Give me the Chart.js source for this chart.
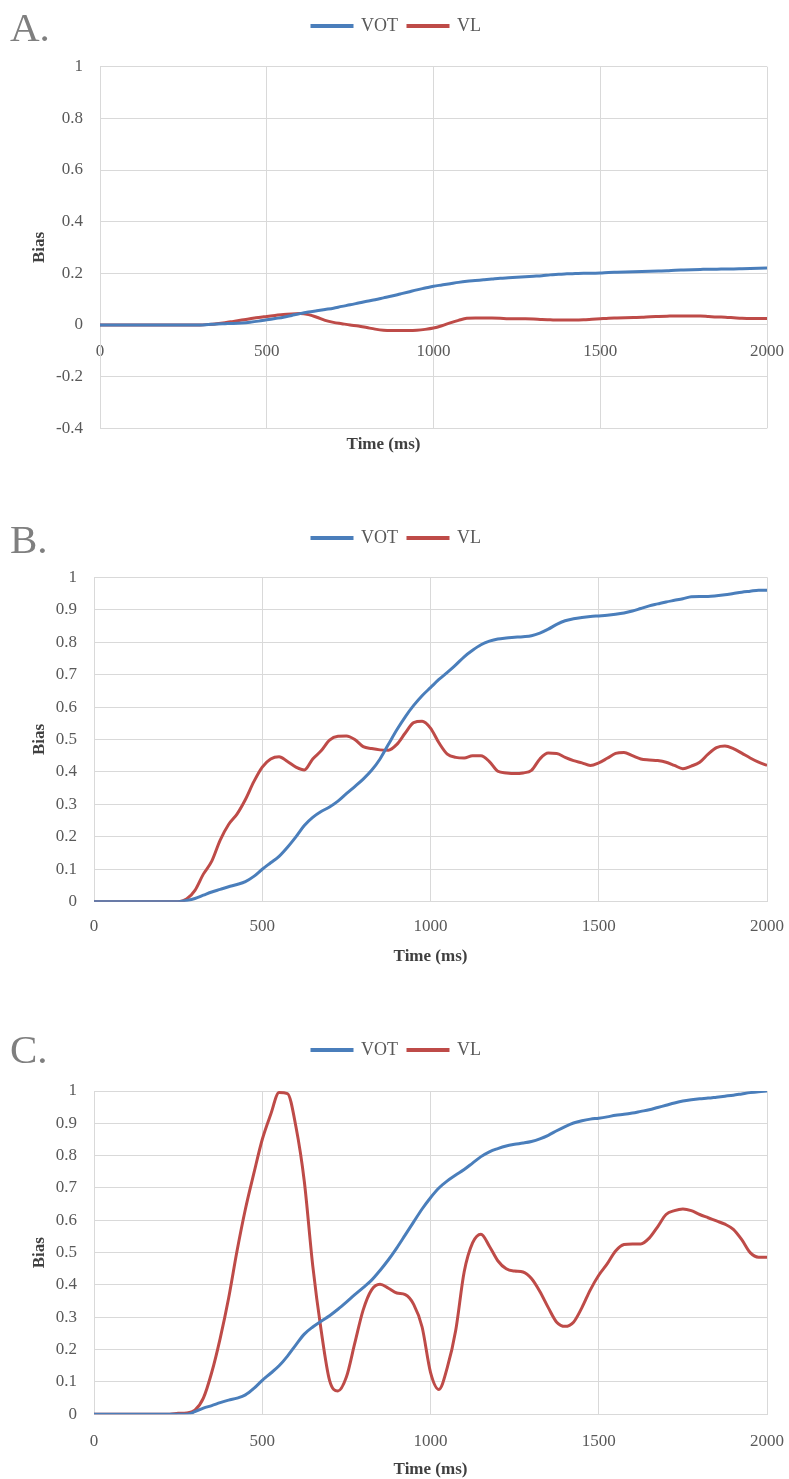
<!DOCTYPE html>
<html>
<head>
<meta charset="utf-8">
<script src="https://cdn.jsdelivr.net/npm/chart.js@4.4.0/dist/chart.umd.min.js"></script>
<style>
  body { margin: 0; background: #fff; width: 789px; height: 1479px; position: relative; overflow: hidden; font-family: 'Liberation Serif', serif; }
  .panel { position: absolute; left: 0; width: 789px; }
  .tag { position: absolute; left: 10px; font-size: 41px; line-height: 41px; color: #7f7f7f; }
</style>
</head>
<body>
<div class="panel" style="top:0px;height:460px"><canvas id="chartA" width="789" height="460"></canvas></div>
<div class="panel" style="top:500px;height:475px"><canvas id="chartB" width="789" height="475"></canvas></div>
<div class="panel" style="top:1010px;height:469px"><canvas id="chartC" width="789" height="469"></canvas></div>
<div class="tag" style="top:7px">A.</div>
<div class="tag" style="top:519px">B.</div>
<div class="tag" style="top:1029px">C.</div>
<script>
// time axis, one sample every 25 ms
const timeMs = [
  0, 25, 50, 75, 100, 125, 150, 175,
  200, 225, 250, 275, 300, 325, 350, 375,
  400, 425, 450, 475, 500, 525, 550, 575,
  600, 625, 650, 675, 700, 725, 750, 775,
  800, 825, 850, 875, 900, 925, 950, 975,
  1000, 1025, 1050, 1075, 1100, 1125, 1150, 1175,
  1200, 1225, 1250, 1275, 1300, 1325, 1350, 1375,
  1400, 1425, 1450, 1475, 1500, 1525, 1550, 1575,
  1600, 1625, 1650, 1675, 1700, 1725, 1750, 1775,
  1800, 1825, 1850, 1875, 1900, 1925, 1950, 1975,
  2000
];

const xTicks = [0, 500, 1000, 1500, 2000];
const yTicksA = [-0.4, -0.2, 0, 0.2, 0.4, 0.6, 0.8, 1];
const yTicksBC = [0, 0.1, 0.2, 0.3, 0.4, 0.5, 0.6, 0.7, 0.8, 0.9, 1];

// panel A
const votA = [
  0, 0, 0, 0, 0, 0, 0, 0,
  0, 0, 0, 0, 0, 0.002, 0.004, 0.005,
  0.006, 0.008, 0.011, 0.015, 0.02, 0.025, 0.03, 0.037,
  0.044, 0.05, 0.055, 0.06, 0.065, 0.072, 0.078, 0.085,
  0.092, 0.098, 0.105, 0.112, 0.12, 0.128, 0.136, 0.143,
  0.15, 0.155, 0.16, 0.165, 0.169, 0.172, 0.175, 0.178,
  0.181, 0.183, 0.185, 0.187, 0.189, 0.191, 0.194, 0.196,
  0.198, 0.199, 0.2, 0.2, 0.201, 0.203, 0.204, 0.205,
  0.206, 0.207, 0.208, 0.209, 0.21, 0.212, 0.213, 0.214,
  0.215, 0.216, 0.216, 0.217, 0.217, 0.218, 0.219, 0.22,
  0.221
];
const vlA = [
  0, 0, 0, 0, 0, 0, 0, 0,
  0, 0, 0, 0, 0, 0.002, 0.005, 0.009,
  0.014, 0.019, 0.024, 0.029, 0.033, 0.037, 0.041, 0.043,
  0.044, 0.04, 0.03, 0.018, 0.01, 0.005, 0, -0.004,
  -0.01, -0.016, -0.02, -0.021, -0.021, -0.021, -0.02, -0.017,
  -0.012, -0.003, 0.008, 0.018, 0.026, 0.027, 0.027, 0.027,
  0.026, 0.024, 0.024, 0.024, 0.023, 0.021, 0.02, 0.019,
  0.019, 0.019, 0.02, 0.022, 0.024, 0.026, 0.027, 0.028,
  0.029, 0.03, 0.032, 0.033, 0.034, 0.035, 0.035, 0.035,
  0.035, 0.033, 0.031, 0.03, 0.028, 0.026, 0.025, 0.025,
  0.025
];

// panel B
const votB = [
  0, 0, 0, 0, 0, 0, 0, 0,
  0, 0, 0, 0.004, 0.01, 0.02, 0.03, 0.038,
  0.046, 0.053, 0.062, 0.078, 0.1, 0.12, 0.14, 0.168,
  0.2, 0.235, 0.26, 0.278, 0.292, 0.31, 0.333, 0.355,
  0.378, 0.405, 0.44, 0.485, 0.53, 0.57, 0.605, 0.635,
  0.66, 0.685, 0.707, 0.73, 0.755, 0.775, 0.792, 0.803,
  0.81, 0.813, 0.815, 0.817, 0.82, 0.828, 0.84, 0.855,
  0.866, 0.872, 0.876, 0.879, 0.881, 0.883, 0.886, 0.89,
  0.896, 0.904, 0.912, 0.918, 0.924, 0.929, 0.934, 0.94,
  0.941, 0.941, 0.943, 0.946, 0.95, 0.954, 0.957, 0.96,
  0.96
];
const vlB = [
  0, 0, 0, 0, 0, 0, 0, 0,
  0, 0, 0, 0.008, 0.035, 0.085, 0.125, 0.19,
  0.238, 0.27, 0.315, 0.37, 0.415, 0.44, 0.447, 0.432,
  0.415, 0.406, 0.44, 0.465, 0.498, 0.51, 0.511, 0.5,
  0.478, 0.472, 0.468, 0.467, 0.485, 0.52, 0.552, 0.556,
  0.535, 0.49, 0.455, 0.445, 0.443, 0.45, 0.45, 0.432,
  0.402, 0.397, 0.395, 0.397, 0.405, 0.44, 0.458, 0.457,
  0.445, 0.435, 0.428, 0.42, 0.428, 0.442, 0.457, 0.46,
  0.45, 0.44, 0.437, 0.435, 0.43, 0.42, 0.41, 0.418,
  0.43, 0.455, 0.475, 0.48, 0.472, 0.458, 0.443, 0.43,
  0.42
];

// panel C
const votC = [
  0, 0, 0, 0, 0, 0, 0, 0,
  0, 0, 0, 0, 0.008, 0.019, 0.027, 0.036,
  0.044, 0.05, 0.06, 0.08, 0.105, 0.127, 0.15, 0.18,
  0.215, 0.248, 0.27, 0.288, 0.305, 0.325, 0.347, 0.37,
  0.392, 0.415, 0.445, 0.478, 0.515, 0.555, 0.595, 0.635,
  0.67, 0.7, 0.722, 0.74, 0.757, 0.777, 0.797, 0.812,
  0.822, 0.83, 0.835, 0.839, 0.844, 0.852, 0.863, 0.877,
  0.89, 0.901, 0.908, 0.913, 0.916, 0.92, 0.925, 0.928,
  0.932, 0.937, 0.942, 0.949, 0.956, 0.963, 0.969, 0.973,
  0.976, 0.978, 0.981, 0.984, 0.987, 0.991, 0.995, 0.998,
  1
];
const vlC = [
  0, 0, 0, 0, 0, 0, 0, 0,
  0, 0, 0.003, 0.004, 0.013, 0.05, 0.13, 0.235,
  0.359, 0.505, 0.635, 0.745, 0.85, 0.927, 0.995, 0.992,
  0.89, 0.72, 0.46, 0.26, 0.105, 0.072, 0.115, 0.22,
  0.323, 0.385, 0.402, 0.39, 0.375, 0.37, 0.34, 0.27,
  0.13, 0.077, 0.145, 0.26, 0.44, 0.53, 0.557, 0.52,
  0.475, 0.45, 0.443, 0.44, 0.42, 0.38, 0.33, 0.285,
  0.272, 0.285, 0.33, 0.385, 0.43, 0.465, 0.505, 0.525,
  0.527, 0.527, 0.545, 0.58, 0.618, 0.63, 0.635, 0.63,
  0.618, 0.608, 0.598, 0.588, 0.572, 0.54, 0.5, 0.486,
  0.486
];

const blue = '#4a7ebb';
const red = '#be4b48';
const gridColor = '#d9d9d9';
const textColor = '#595959';
const labelColor = '#404040';
const tickFont = { family: 'Liberation Serif', size: 17 };
const boldFont = { family: 'Liberation Serif', size: 17, weight: 'bold' };

// keep legend height fixed and nudge it sideways like the original
const legendFix = {
  id: 'legendFix',
  beforeLayout(chart, args, opts) {
    const legend = chart.legend;
    if (legend._fixed) return;
    const fit = legend.fit;
    legend.fit = function () {
      fit.call(this);
      this.height = opts.height;
    };
    legend._fixed = true;
  },
  afterLayout(chart, args, opts) {
    chart.legend.left += opts.shift;
    chart.legend.right += opts.shift;
  }
};

const toPoints = (vals) => timeMs.map((t, i) => ({ x: t, y: vals[i] }));

const createChart = (id, vot, vl, yTicks, yMin, p) => {
  const xScale = {
    type: 'linear',
    min: 0,
    max: 2000,
    afterBuildTicks: s => { s.ticks = xTicks.map(v => ({ value: v })); },
    afterFit: s => {
      s.paddingLeft = 0;
      s.paddingRight = 0;
      if (!p.xAtZero) s.height = p.xHeight;
    },
    grid: { color: gridColor, drawTicks: false },
    border: { color: gridColor },
    ticks: { padding: p.xPad, color: textColor, font: tickFont, maxRotation: 0, autoSkip: false, callback: v => String(v) }
  };
  if (p.xAtZero) {
    xScale.position = { y: 0 };
  } else {
    xScale.title = { display: true, text: 'Time (ms)', color: labelColor, font: boldFont, padding: { top: 0, bottom: p.titlePad } };
  }

  return new Chart(document.getElementById(id), {
    type: 'line',
    data: {
      datasets: [
        { label: 'VOT', data: toPoints(vot), borderColor: blue, backgroundColor: blue, borderWidth: 3 },
        { label: 'VL', data: toPoints(vl), borderColor: red, backgroundColor: red, borderWidth: 3 }
      ]
    },
    options: {
      responsive: false,
      animation: false,
      layout: { padding: { top: p.top, right: 22, left: 0, bottom: 0 } },
      elements: { point: { radius: 0 }, line: { cubicInterpolationMode: 'monotone' } },
      plugins: {
        legend: {
          position: 'top',
          labels: { boxWidth: 40, boxHeight: 1, padding: 10, color: textColor, font: { family: 'Liberation Serif', size: 18 } }
        },
        legendFix: { height: p.legendHeight, shift: 13 },
        title: p.xAtZero
          ? { display: true, position: 'bottom', text: 'Time (ms)', color: labelColor, font: boldFont, padding: { top: 6.5, bottom: 4.8 } }
          : { display: false },
        tooltip: { enabled: false }
      },
      scales: {
        x: xScale,
        y: {
          min: yMin,
          max: 1,
          afterBuildTicks: s => { s.ticks = yTicks.map(v => ({ value: v })); },
          afterFit: s => { s.width = p.yWidth; },
          grid: { color: gridColor, drawTicks: false },
          border: { color: gridColor },
          ticks: { padding: 17, color: textColor, font: tickFont, callback: v => String(Math.round(v * 10) / 10) },
          title: { display: true, text: 'Bias', color: labelColor, font: boldFont, padding: { top: 29, bottom: 0 } }
        }
      }
    },
    plugins: [legendFix]
  });
};

createChart('chartA', votA, vlA, yTicksA, -0.4, { top: 7, legendHeight: 59.7, yWidth: 100, xPad: 16.5, xAtZero: true });
createChart('chartB', votB, vlB, yTicksBC, 0, { top: 19, legendHeight: 58.3, yWidth: 94, xPad: 14.5, xHeight: 73.3, titlePad: 7.8 });
createChart('chartC', votC, vlC, yTicksBC, 0, { top: 21, legendHeight: 60, yWidth: 94, xPad: 17.5, xHeight: 64.7, titlePad: -1.2 });
</script>
</body>
</html>
